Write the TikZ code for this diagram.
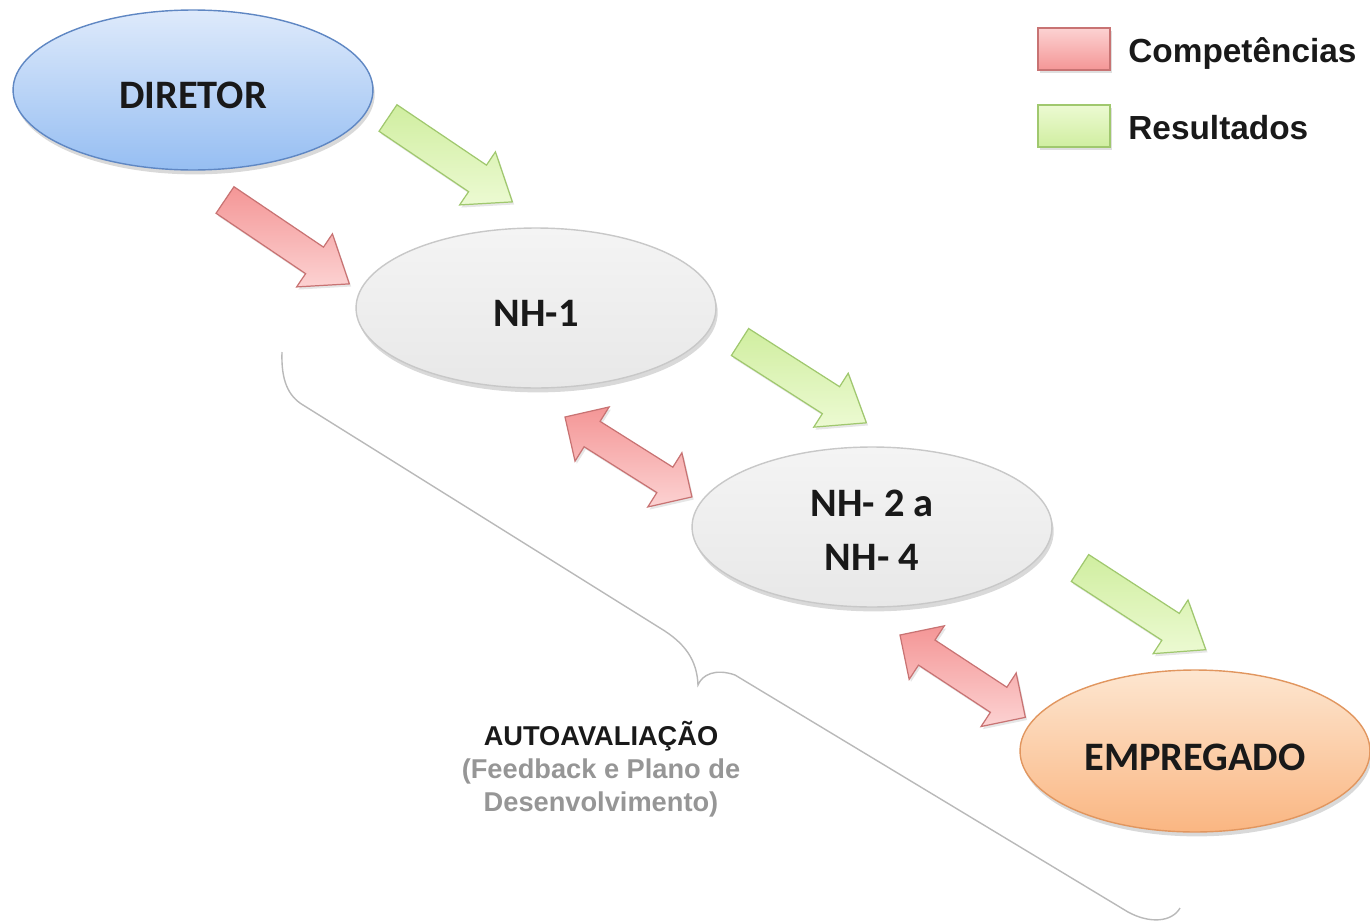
\documentclass[tikz,border=0pt]{standalone}
\usepackage{fontspec}
\setmainfont{Carlito}
\newfontfamily\arialfont{Liberation Sans}
\usetikzlibrary{shadows,shapes.geometric}
\definecolor{dirTop}{RGB}{222,234,251}
\definecolor{dirBot}{RGB}{150,190,242}
\definecolor{dirLine}{RGB}{95,135,195}
\definecolor{nhTop}{RGB}{244,244,244}
\definecolor{nhBot}{RGB}{232,232,232}
\definecolor{nhLine}{RGB}{200,200,200}
\definecolor{empTop}{RGB}{253,230,208}
\definecolor{empBot}{RGB}{250,182,130}
\definecolor{empLine}{RGB}{225,150,95}
\definecolor{redTop}{RGB}{244,150,150}
\definecolor{redBot}{RGB}{252,210,210}
\definecolor{redLine}{RGB}{200,115,115}
\definecolor{grnTop}{RGB}{208,238,160}
\definecolor{grnBot}{RGB}{236,250,210}
\definecolor{grnLine}{RGB}{160,200,110}
\definecolor{braceCol}{RGB}{185,185,185}
\definecolor{subCol}{RGB}{150,150,150}
\tikzset{
  ell/.style={ellipse, minimum width=7.2cm, minimum height=3.2cm, inner sep=0pt,
    line width=0.8pt, font=\fontsize{23}{31}\selectfont\bfseries, text=black!90, align=center,
    text height=20.5pt, text depth=0pt,
    drop shadow={shadow xshift=1pt, shadow yshift=-2.5pt, opacity=0.3}},
  dirstyle/.style={ell, draw=dirLine, top color=dirTop, bottom color=dirBot},
  nhstyle/.style={ell, draw=nhLine, top color=nhTop, bottom color=nhBot},
  empstyle/.style={ell, draw=empLine, top color=empTop, bottom color=empBot},
  redblk/.style={draw=redLine, line width=0.7pt, top color=redTop, bottom color=redBot,
    drop shadow={shadow xshift=1pt, shadow yshift=-1.5pt, opacity=0.2}},
  grnblk/.style={draw=grnLine, line width=0.7pt, top color=grnTop, bottom color=grnBot,
    drop shadow={shadow xshift=1pt, shadow yshift=-1.5pt, opacity=0.2}},
  legbox/.style={line width=0.7pt, minimum width=1.44cm, minimum height=0.84cm, inner sep=0pt,
    drop shadow={shadow xshift=1pt, shadow yshift=-1.5pt, opacity=0.25}},
  legtext/.style={anchor=base west, inner sep=0pt, font=\arialfont\bfseries\fontsize{19}{22}\selectfont, text=black!90},
  bracestyle/.style={draw=braceCol, line width=0.8pt}
}
% single block arrow: #1 anchor coordinate (tail centre), #2 angle, #3 style
\newcommand{\singlearrow}[3]{%
  \begin{scope}[shift={(#1)}, rotate=#2]
    \path[#3] (0,-16) -- (108,-16) -- (108,-32) -- (150,0) -- (108,32) -- (108,16) -- (0,16) -- cycle;
  \end{scope}}
% double block arrow: #1 anchor coordinate (first tip), #2 angle, #3 style
\newcommand{\doublearrow}[3]{%
  \begin{scope}[shift={(#1)}, rotate=#2]
    \path[#3] (0,0) -- (32,32) -- (32,15) -- (118,15) -- (118,32) -- (150,0) -- (118,-32) -- (118,-15) -- (32,-15) -- (32,-32) -- cycle;
  \end{scope}}
\begin{document}
\begin{tikzpicture}[x=0.02cm, y=-0.02cm]
\useasboundingbox (0,0) rectangle (1370,923);

% brace
\draw[bracestyle] (282,352) .. controls (281,380) and (288,396) .. (303,405)
  -- (660,628) .. controls (685,643) and (697,660) .. (698,685)
  .. controls (702,675) and (715,668) .. (735,675)
  -- (1128,912) .. controls (1150,924) and (1172,922) .. (1180,908);

% nodes
\node[dirstyle] (dir) at (193,90) {DIRETOR};
\node[nhstyle] (nh1) at (536,308) {NH-1};
\node[nhstyle, text height=49.6pt, text depth=0pt] (nh2) at (872,527) {NH- 2 a\\NH- 4};
\node[empstyle, minimum width=7.0cm, minimum height=3.24cm, text height=22.5pt] (emp) at (1195,751) {EMPREGADO};

% arrow anchors
\coordinate (g1) at (388,118);
\coordinate (r1) at (225,200);
\coordinate (g2) at (740,342);
\coordinate (d1) at (565,417);
\coordinate (g3) at (1080,568);
\coordinate (d2) at (900,635);

\singlearrow{g1}{-34}{grnblk}
\singlearrow{r1}{-34}{redblk}
\singlearrow{g2}{-32.6}{grnblk}
\doublearrow{d1}{-32.2}{redblk}
\singlearrow{g3}{-33}{grnblk}
\doublearrow{d2}{-33.3}{redblk}

% legend
\node[legbox, draw=redLine, top color=redBot, bottom color=redTop] (legr) at (1074,49) {};
\node[legbox, draw=grnLine, top color=grnBot, bottom color=grnTop] (legg) at (1074,126) {};
\node[legtext] (legrt) at (1128,62) {Competências};
\node[legtext] (leggt) at (1128,139) {Resultados};

% label
\node[align=center, font=\arialfont\bfseries\fontsize{15.5}{18.8}\selectfont, text=subCol, inner sep=0pt] (auto) at (601,769)
  {\textcolor{black!90}{AUTOAVALIAÇÃO}\\(Feedback e Plano de\\Desenvolvimento)};
\end{tikzpicture}
\end{document}
